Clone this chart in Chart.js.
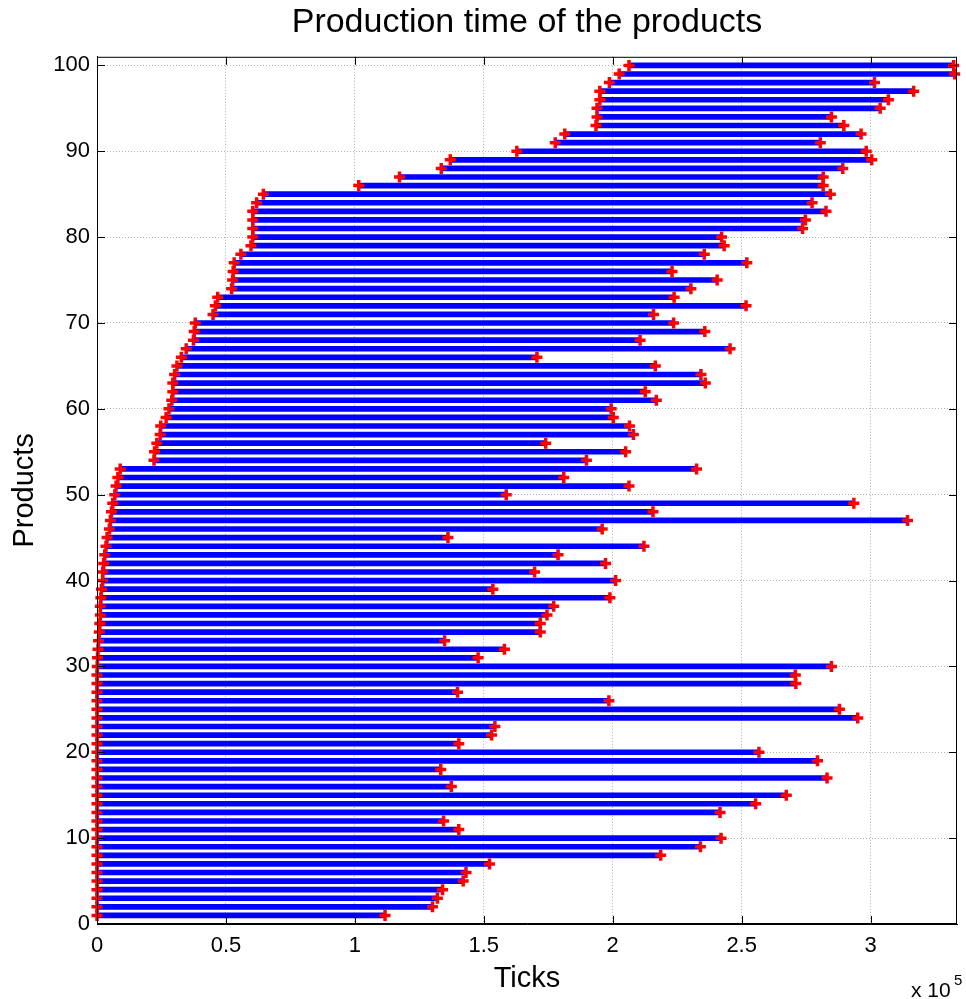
<!DOCTYPE html>
<html>
<head>
<meta charset="utf-8">
<script src="https://cdn.jsdelivr.net/npm/chart.js@4/dist/chart.umd.min.js"></script>
<style>
  html, body { margin: 0; padding: 0; background: #fff; }
  #wrap { width: 966px; height: 999px; }
</style>
</head>
<body>
<div id="wrap"><canvas id="prodChart" width="966" height="999"></canvas></div>
<script>
// product index 1..100
const products = Array.from({ length: 100 }, (_, i) => i + 1);

// start tick of each product
const startTicks = [
    0, 0, 0, 0, 0, 0, 0, 0, 0, 0,
    0, 0, 0, 0, 0, 0, 0, 0, 0, 0,
    0, 0, 0, 0, 0, 0, 0, 0, 0, 100,
    200, 400, 600, 900, 1100, 1300, 1300, 1500, 1700, 2200,
    2200, 2600, 3000, 3500, 3900, 4800, 5200, 5600, 6100, 6900,
    7400, 8100, 9000, 22100, 22300, 23200, 24500, 24700, 26800, 27900,
    29000, 29400, 29400, 30100, 31000, 32700, 34600, 37400, 37700, 38100,
    45000, 45900, 46800, 52200, 52600, 52800, 53200, 55800, 59700, 60400,
    60400, 60400, 60400, 61900, 64500, 101500, 117300, 133500, 137000, 162800,
    177700, 181400, 193500, 193900, 193900, 195000, 195000, 198700, 202500, 206300
];

// end tick of each product
const endTicks = [
    111700, 130100, 132000, 134000, 142000, 143100, 152200, 218600, 234000, 242000,
    140300, 134400, 241600, 255400, 267300, 137400, 283100, 133300, 279400, 256700,
    140300, 153000, 154300, 295000, 287900, 198500, 139800, 271000, 270800, 284800,
    147800, 158000, 134800, 171900, 171900, 174500, 177100, 198900, 153500, 201100,
    169700, 197200, 178800, 212100, 136100, 195900, 314300, 215600, 293500, 158700,
    206300, 181000, 232500, 189800, 205000, 174000, 208000, 206500, 200200, 199400,
    216900, 212600, 235900, 234200, 216500, 170600, 245500, 210600, 235700, 223600,
    215800, 251700, 223800, 230300, 240500, 223000, 252000, 235500, 243200, 242200,
    273600, 274700, 282700, 277300, 284400, 281600, 281600, 289200, 300400, 298300,
    280500, 296300, 289600, 284800, 303700, 306900, 316700, 301500, 332600, 332200
];

const xTickValues = [0, 50000, 100000, 150000, 200000, 250000, 300000];
const yTickValues = [0, 10, 20, 30, 40, 50, 60, 70, 80, 90, 100];
const xMax = 333500;
const yMax = 101;

const barData = products.map((p, i) => ({ y: p, x: [startTicks[i], endTicks[i]] }));
const markerData = [];
products.forEach((p, i) => {
    markerData.push({ x: startTicks[i], y: p });
    markerData.push({ x: endTicks[i], y: p });
});

const fontFamily = '"Liberation Sans", Arial, Helvetica, sans-serif';

// MATLAB-like box with inward tick marks and the x 10^5 exponent
const boxPlugin = {
    id: 'boxPlugin',
    afterDraw(chart) {
        const { ctx, chartArea: a, scales } = chart;
        ctx.save();
        ctx.strokeStyle = '#000';
        ctx.lineWidth = 1;
        ctx.strokeRect(a.left + 0.5, a.top + 0.5, a.right - a.left - 1, a.bottom - a.top - 1);
        const len = 8;
        ctx.beginPath();
        scales.x.ticks.forEach(t => {
            const px = Math.round(scales.x.getPixelForValue(t.value)) + 0.5;
            ctx.moveTo(px, a.bottom);
            ctx.lineTo(px, a.bottom - len);
            ctx.moveTo(px, a.top);
            ctx.lineTo(px, a.top + len);
        });
        scales.y.ticks.forEach(t => {
            const py = Math.round(scales.y.getPixelForValue(t.value)) + 0.5;
            ctx.moveTo(a.left, py);
            ctx.lineTo(a.left + len, py);
            ctx.moveTo(a.right, py);
            ctx.lineTo(a.right - len, py);
        });
        ctx.stroke();

        ctx.fillStyle = '#000';
        ctx.textBaseline = 'alphabetic';
        ctx.textAlign = 'left';
        ctx.font = '21px ' + fontFamily;
        ctx.fillText('x 10', 911, 997);
        ctx.font = '15px ' + fontFamily;
        ctx.fillText('5', 954, 985);
        ctx.restore();
    }
};

new Chart(document.getElementById('prodChart').getContext('2d'), {
    type: 'bar',
    data: {
        datasets: [
            {
                type: 'bar',
                indexAxis: 'y',
                data: barData,
                backgroundColor: '#0000ff',
                borderWidth: 0,
                barThickness: 5,
                order: 2
            },
            {
                type: 'line',
                data: markerData,
                showLine: false,
                pointStyle: 'cross',
                pointRadius: 5.5,
                pointBorderWidth: 3.5,
                pointBorderColor: '#ff0000',
                pointBackgroundColor: '#ff0000',
                pointHoverRadius: 5.5,
                clip: false,
                order: 1
            }
        ]
    },
    options: {
        responsive: false,
        animation: false,
        indexAxis: 'y',
        layout: { padding: { left: 0, right: 1, top: 0, bottom: 0 } },
        plugins: {
            legend: { display: false },
            tooltip: { enabled: false },
            title: {
                display: true,
                fullSize: false,
                text: 'Production time of the products',
                color: '#000',
                font: { family: fontFamily, size: 34, weight: 'normal', lineHeight: 1.2 },
                padding: { top: 2, bottom: 14 }
            }
        },
        scales: {
            x: {
                type: 'linear',
                position: 'bottom',
                min: 0,
                max: xMax,
                offset: false,
                afterFit: s => { s.height = 75; },
                afterBuildTicks: s => { s.ticks = xTickValues.map(v => ({ value: v })); },
                ticks: {
                    color: '#000',
                    padding: 9,
                    maxRotation: 0,
                    autoSkip: false,
                    font: { family: fontFamily, size: 22 },
                    callback: v => String(v / 100000)
                },
                grid: { color: '#b0b0b0', drawTicks: false, offset: false },
                border: { display: true, color: '#000', dash: [1, 2] },
                title: {
                    display: true,
                    text: 'Ticks',
                    color: '#000',
                    font: { family: fontFamily, size: 29 },
                    padding: { top: 0, bottom: 3 }
                }
            },
            y: {
                type: 'linear',
                position: 'left',
                min: 0,
                max: yMax,
                offset: false,
                afterFit: s => { s.width = 97; },
                afterBuildTicks: s => { s.ticks = yTickValues.map(v => ({ value: v })); },
                ticks: {
                    color: '#000',
                    padding: 7,
                    autoSkip: false,
                    font: { family: fontFamily, size: 22 }
                },
                grid: { color: '#b0b0b0', drawTicks: false, offset: false },
                border: { display: true, color: '#000', dash: [1, 2] },
                title: {
                    display: true,
                    text: 'Products',
                    color: '#000',
                    font: { family: fontFamily, size: 29 },
                    padding: { top: 8, bottom: 0 }
                }
            }
        }
    },
    plugins: [boxPlugin]
});
</script>
</body>
</html>
